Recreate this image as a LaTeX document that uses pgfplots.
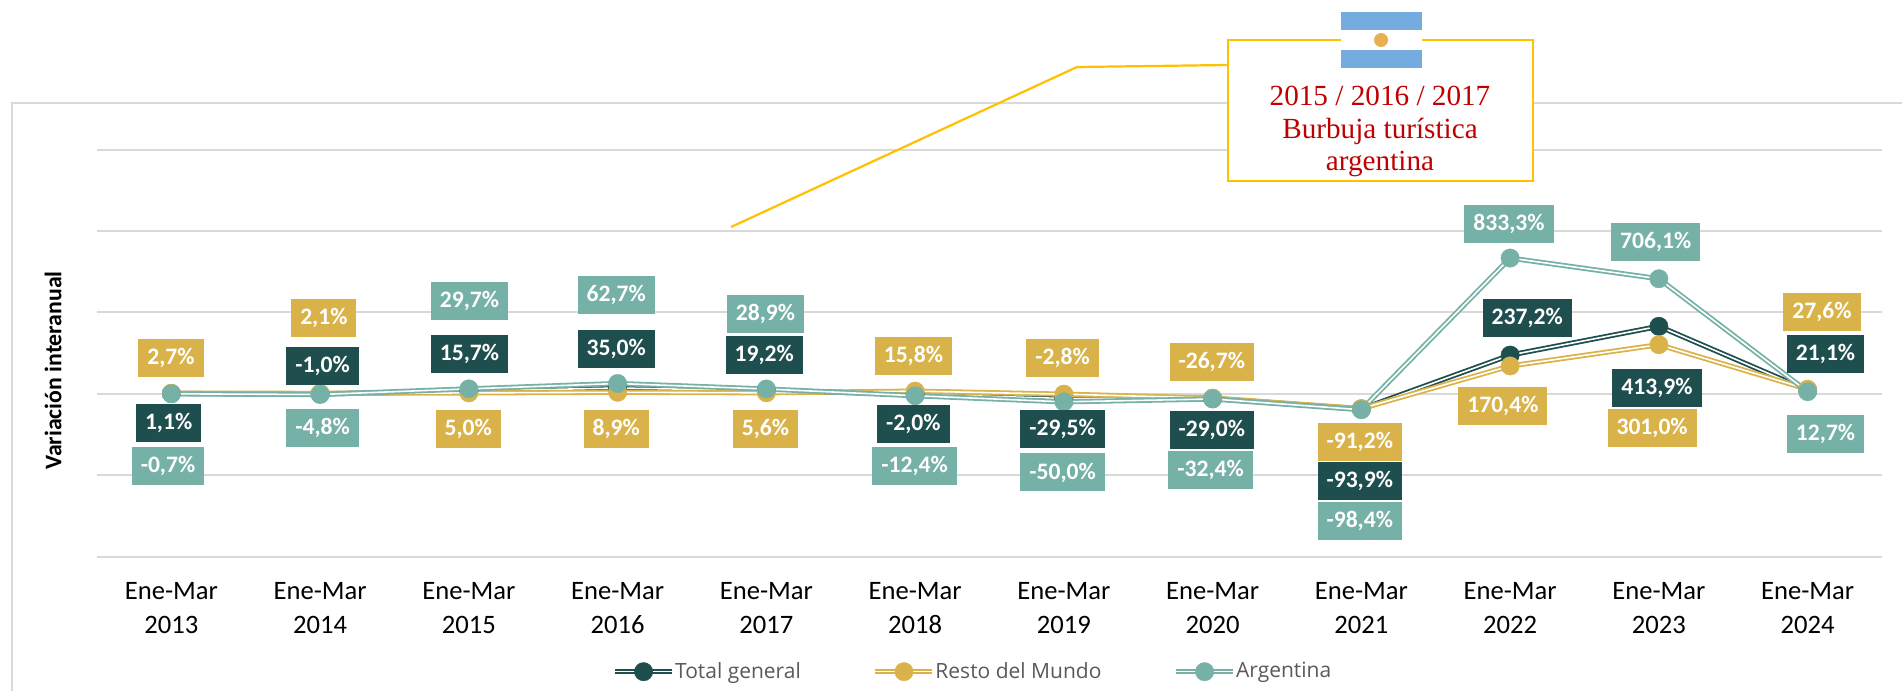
\documentclass[border=0pt]{standalone}
\usepackage{pgfplots}
\pgfplotsset{compat=1.18}
\usepackage{fontspec}
\setmainfont{Carlito}
\newfontfamily\legfont{Open Sans}
\newfontfamily\serif{Liberation Serif}
\definecolor{cdark}{HTML}{1F4E4E}
\definecolor{cyel}{HTML}{D9B34A}
\definecolor{cteal}{HTML}{76B1A8}
\definecolor{cgrid}{HTML}{D9D9D9}
\definecolor{cgold}{HTML}{FFC000}
\definecolor{cred}{HTML}{C00000}
\definecolor{cflag}{HTML}{74ACDF}
\definecolor{csun}{HTML}{E8B050}
\newcommand{\lab}[4]{\node[fill=#3,text=white,font=\fontsize{11.8pt}{13pt}\selectfont\bfseries,inner xsep=4.5pt,inner ysep=0pt,minimum height=19pt,anchor=center] at ({#1*1.213},{(#2+0.5)*1.213}) {#4};}
\pgfplotstableread{
x total resto arg
0 1.1 2.7 -0.7
1 -1.0 2.1 -4.8
2 15.7 5.0 29.7
3 35.0 8.9 62.7
4 19.2 5.6 28.9
5 -2.0 15.8 -12.4
6 -29.5 -2.8 -50.0
7 -29.0 -26.7 -32.4
8 -93.9 -91.2 -98.4
9 237.2 170.4 833.3
10 413.9 301.0 706.1
11 21.1 27.6 12.7
}\datatable
\begin{document}
\begin{tikzpicture}[x=0.5pt,y=-0.5pt]
\path[use as bounding box] (0,0) rectangle (1902,691);
\draw[cgrid,line width=1pt] (12,691) -- (12,103) -- (1902,103);
\begin{axis}[
  at={(48.5pt,-278.25pt)},anchor=south west,
  scale only axis,width=892.5pt,height=203.5pt,
  xmin=-0.5,xmax=11.5,ymin=-1000,ymax=1500,
  clip=false,
  axis line style={draw=none},
  tick style={draw=none},
  ytick={-1000,-500,0,500,1000,1500},
  yticklabels={},
  ymajorgrids,
  grid style={cgrid,line width=1pt},
  xtick={0,...,11},
  xticklabels={Ene-Mar\\2013,Ene-Mar\\2014,Ene-Mar\\2015,Ene-Mar\\2016,Ene-Mar\\2017,Ene-Mar\\2018,Ene-Mar\\2019,Ene-Mar\\2020,Ene-Mar\\2021,Ene-Mar\\2022,Ene-Mar\\2023,Ene-Mar\\2024},
  xticklabel style={align=center,font=\fontsize{13.3pt}{17pt}\selectfont,text=black,yshift=-9.5pt},
  ylabel={Variación interanual},
  every axis y label/.style={at={(rel axis cs:-0.0246,0.457)},rotate=90,anchor=center,font=\fontsize{11.9pt}{13pt}\selectfont\bfseries},
  legend style={draw=none,fill=none,legend columns=3,
     font=\fontsize{10.5pt}{12pt}\selectfont\legfont,text=black!65,
     at={(0.2852,-0.283)},anchor=west,
     nodes={inner xsep=2.2pt},
     /tikz/every odd column/.style={column sep=-2pt},
     /tikz/every even column/.style={column sep=33.8pt}},
  legend image code/.code={
     \draw[#1,mark=none] (0pt,0pt) -- (28.5pt,0pt);
     \draw[#1,only marks] plot coordinates {(14.25pt,0pt)};},
  every axis plot/.append style={line width=.9pt,double=white,double distance=.8pt,
     mark=*,mark size=4.6pt},
]
\addplot[draw=cdark,mark options={fill=cdark,draw=cdark,double distance=0pt,line width=.2pt}] table[x=x,y=total] {\datatable};
\addlegendentry{Total general}
\addplot[draw=cyel,mark options={fill=cyel,draw=cyel,double distance=0pt,line width=.2pt}] table[x=x,y=resto] {\datatable};
\addlegendentry{Resto del Mundo}
\addplot[draw=cteal,mark options={fill=cteal,draw=cteal,double distance=0pt,line width=.2pt}] table[x=x,y=arg] {\datatable};
\addlegendentry{Argentina}
\end{axis}
% labels
\lab{141}{295}{cyel}{2,7\%}\lab{139}{348.5}{cdark}{1,1\%}\lab{138.5}{384}{cteal}{-0,7\%}
\lab{267}{261.5}{cyel}{2,1\%}\lab{266}{301}{cdark}{-1,0\%}\lab{266}{352}{cteal}{-4,8\%}
\lab{387}{248}{cteal}{29,7\%}\lab{387}{291}{cdark}{15,7\%}\lab{386}{353}{cyel}{5,0\%}
\lab{508}{243}{cteal}{62,7\%}\lab{508}{287}{cdark}{35,0\%}\lab{508}{353}{cyel}{8,9\%}
\lab{631}{258}{cteal}{28,9\%}\lab{630}{292}{cdark}{19,2\%}\lab{631}{353}{cyel}{5,6\%}
\lab{753}{293}{cyel}{15,8\%}\lab{753}{349}{cdark}{-2,0\%}\lab{754}{384}{cteal}{-12,4\%}
\lab{876}{295}{cyel}{-2,8\%}\lab{876}{353}{cdark}{-29,5\%}\lab{876}{389}{cteal}{-50,0\%}
\lab{999}{298}{cyel}{-26,7\%}\lab{999}{354}{cdark}{-29,0\%}\lab{998}{387}{cteal}{-32,4\%}
\lab{1121}{364}{cyel}{-91,2\%}\lab{1121}{396}{cdark}{-93,9\%}\lab{1121}{429}{cteal}{-98,4\%}
\lab{1244}{184}{cteal}{833,3\%}\lab{1259}{262}{cdark}{237,2\%}\lab{1239}{334}{cyel}{170,4\%}
\lab{1365}{199}{cteal}{706,1\%}\lab{1366}{319}{cdark}{413,9\%}\lab{1362}{352}{cyel}{301,0\%}
\lab{1502}{257}{cyel}{27,6\%}\lab{1505}{291}{cdark}{21,1\%}\lab{1505}{357}{cteal}{12,7\%}
% callout
\draw[cgold,line width=1.1pt] (731,227) -- (1077,67) -- (1227,65);
\draw[cgold,line width=1.2pt,fill=white] (1228,40) rectangle (1533,181);
\fill[white] (1341,12) rectangle (1422,68);
\fill[cflag] (1341,12) rectangle (1422,30);
\fill[cflag] (1341,50) rectangle (1422,68);
\fill[csun] (1381,40) circle[radius=7];
\node[align=center,text=cred,font=\fontsize{14.6pt}{16.25pt}\selectfont\serif] at (1380,131.5) {2015 / 2016 / 2017\\Burbuja turística\\argentina};
\end{tikzpicture}
\end{document}
